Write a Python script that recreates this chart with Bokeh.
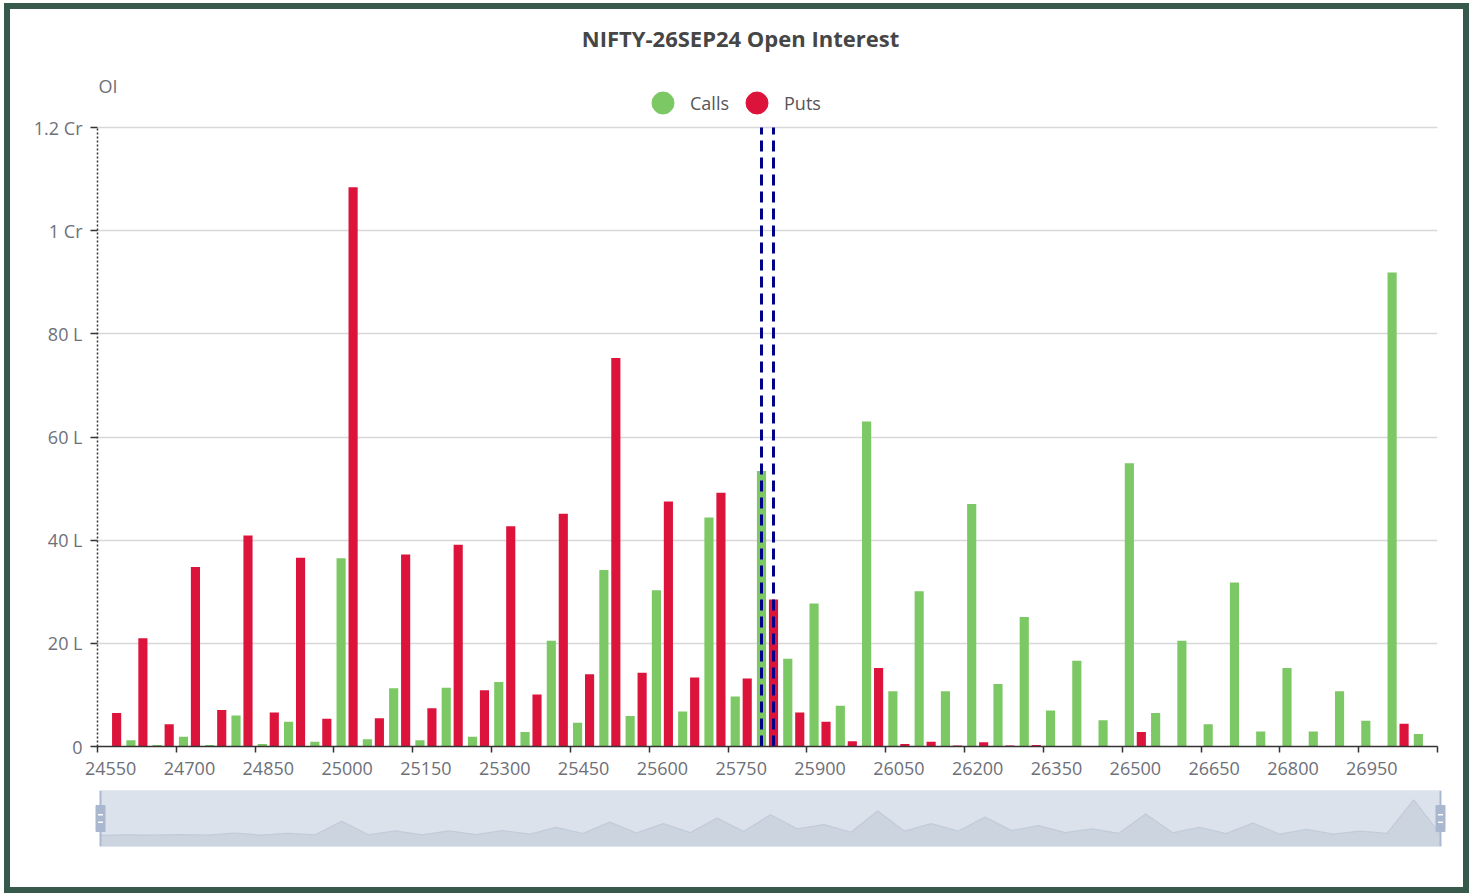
import numpy as np
from bokeh.plotting import figure
from bokeh.models import (Range1d, FixedTicker, Legend, LegendItem,
                          Label, ColumnDataSource)
from bokeh.transform import dodge
from bokeh.layouts import column
from bokeh.embed import file_html
from bokeh.resources import INLINE

# ---------------- data (OI in lakhs) ----------------
strikes = [24550, 24600, 24650, 24700, 24750, 24800, 24850, 24900, 24950,
           25000, 25050, 25100, 25150, 25200, 25250, 25300, 25350, 25400, 25450,
           25500, 25550, 25600, 25650, 25700, 25750, 25800, 25850, 25900, 25950,
           26000, 26050, 26100, 26150, 26200, 26250, 26300, 26350, 26400, 26450,
           26500, 26550, 26600, 26650, 26700, 26750, 26800, 26850, 26900, 26950,
           27000, 27050]
calls_oi = [0.0, 1.2, 0.3, 1.9, 0.3, 6.0, 0.5, 4.8, 0.9,
            36.5, 1.4, 11.3, 1.2, 11.4, 1.9, 12.5, 2.8, 20.5, 4.6,
            34.2, 5.9, 30.3, 6.8, 44.4, 9.7, 53.4, 17.0, 27.7, 7.9,
            63.0, 10.7, 30.1, 10.7, 47.0, 12.1, 25.1, 7.0, 16.6, 5.1,
            54.9, 6.5, 20.5, 4.3, 31.8, 2.9, 15.2, 2.9, 10.7, 5.0,
            91.9, 2.4]
puts_oi = [6.5, 21.0, 4.3, 34.8, 7.1, 40.9, 6.6, 36.6, 5.4,
           108.4, 5.5, 37.2, 7.4, 39.1, 10.9, 42.7, 10.1, 45.1, 14.0,
           75.3, 14.3, 47.5, 13.4, 49.2, 13.2, 28.5, 6.6, 4.8, 1.0,
           15.2, 0.5, 0.9, 0.2, 0.8, 0.2, 0.3, 0.1, 0.1, 0.0,
           2.8, 0.0, 0.0, 0.0, 0.0, 0.0, 0.0, 0.0, 0.0, 0.0,
           4.4, 0.0]
atm_strike = 25800
y_tick_values = [0, 20, 40, 60, 80, 100, 120]
y_tick_labels = ["0", "20 L", "40 L", "60 L", "80 L", "1 Cr", "1.2 Cr"]
title_text = "NIFTY-26SEP24 Open Interest"
y_name = "OI"
series_names = ["Calls", "Puts"]
label_every = 3

# ---------------- styles ----------------
GREEN = "#7CC864"
RED = "#DC143C"
FONT = "Open Sans"
AXIS_TXT = "#6E7079"
DARK = "#333333"

n = len(strikes)
idx = list(range(n))
src = ColumnDataSource(dict(i=idx, calls=calls_oi, puts=puts_oi))

W = 1453
MAIN_H = 781
BOTTOM = 44
FRAME_H = MAIN_H - BOTTOM          # frame spans from the very top
PLOT_TOP_PX = 118                   # where the 1.2 Cr line sits
ymax = y_tick_values[-1]
y_end = ymax * FRAME_H / (FRAME_H - PLOT_TOP_PX)

p = figure(width=W, height=MAIN_H, x_range=Range1d(-0.5, n - 0.5),
           y_range=Range1d(0, y_end), output_backend="svg", toolbar_location=None,
           min_border_left=87, min_border_right=26, min_border_top=0,
           min_border_bottom=BOTTOM)
p.outline_line_color = None
p.background_fill_color = "white"
p.border_fill_color = "white"
p.xgrid.visible = False
p.ygrid.grid_line_color = "#D8D8D8"
p.ygrid.grid_line_width = 1.5

off = 0.228
bw = 0.348
p.vbar(x=dodge("i", -off, range=p.x_range), top="calls", width=bw, source=src,
       fill_color=GREEN, line_color=None)
p.vbar(x=dodge("i", off, range=p.x_range), top="puts", width=bw, source=src,
       fill_color=RED, line_color=None)

ai = strikes.index(atm_strike)
p.segment(x0=[ai - off, ai + off], y0=[0, 0], x1=[ai - off, ai + off],
          y1=[ymax, ymax], line_color="#00008B", line_width=3, line_dash="11 6")

# x axis: labels at category centres, ticks (minor) on category boundaries
lab_idx = idx[::label_every]
ax = p.xaxis[0]
ax.ticker = FixedTicker(ticks=lab_idx,
                        minor_ticks=[i - 0.5 for i in range(0, n + 1, label_every)])
ax.major_label_overrides = {i: str(strikes[i]) for i in lab_idx}
ax.major_tick_line_color = None
ax.major_tick_out = 0
ax.major_tick_in = 0
ax.minor_tick_line_color = DARK
ax.minor_tick_line_width = 1.5
ax.minor_tick_out = 6
ax.minor_tick_in = 0
ax.axis_line_color = DARK
ax.axis_line_width = 1.5
ax.major_label_standoff = 9
ax.major_label_text_font = FONT
ax.major_label_text_font_size = "18px"
ax.major_label_text_color = AXIS_TXT

yax = p.yaxis[0]
yax.ticker = FixedTicker(ticks=y_tick_values)
yax.bounds = (0, ymax)
yax.major_label_overrides = dict(zip(y_tick_values, y_tick_labels))
yax.axis_line_dash = "2 2"
yax.axis_line_color = DARK
yax.axis_line_width = 1.5
yax.major_tick_out = 7
yax.major_tick_in = 0
yax.major_tick_line_color = DARK
yax.major_tick_line_width = 1.5
yax.minor_tick_line_color = None
yax.major_label_standoff = 8
yax.major_label_text_font = FONT
yax.major_label_text_font_size = "18px"
yax.major_label_text_color = AXIS_TXT

# legend (circle icons; the dummy points are NaN so nothing shows in the plot)
nan_pt = np.array([np.nan])
rc = p.scatter(x=nan_pt, y=nan_pt, marker="circle", size=22, color=GREEN)
rp = p.scatter(x=nan_pt, y=nan_pt, marker="circle", size=22, color=RED)
legend = Legend(items=[LegendItem(label=series_names[0], renderers=[rc]),
                       LegendItem(label=series_names[1], renderers=[rp])],
                location=(538, 616), orientation="horizontal",
                glyph_width=55, glyph_height=55, label_standoff=0, spacing=0,
                padding=0, margin=0, border_line_color=None,
                background_fill_alpha=0, label_text_font=FONT,
                label_text_font_size="18px", label_text_color="#555555")
p.add_layout(legend)

p.add_layout(Label(x=-0.5, y=ymax, x_offset=643, y_offset=90, text=title_text,
                   text_align="center", text_baseline="middle",
                   text_font=FONT, text_font_size="22px",
                   text_font_style="bold", text_color="#464646"))
p.add_layout(Label(x=-0.5, y=ymax, x_offset=1, y_offset=42, text=y_name,
                   text_align="left", text_baseline="middle",
                   text_font=FONT, text_font_size="18px", text_color=AXIS_TXT))

# ---------------- data-zoom slider ----------------
ys0, ys1 = -29, 116
s = figure(width=W, height=97, x_range=Range1d(-0.224, n - 1 + 0.224),
           y_range=Range1d(ys0, ys1), output_backend="svg",
           toolbar_location=None, min_border_left=84, min_border_right=17,
           min_border_top=0, min_border_bottom=41)
for fig in (p, s):
    try:
        fig.frame_align = False
    except Exception:
        pass
s.axis.visible = False
s.grid.visible = False
s.outline_line_color = None
s.background_fill_color = "white"
s.border_fill_color = "white"
s.quad(left=[idx[0]], right=[idx[-1]], bottom=[ys0], top=[ys1],
       fill_color="#DCE2EC", line_color="#D2DBEE", line_width=1)
s.varea(x=idx, y1=[ys0] * n, y2=calls_oi, fill_color="#CCD4E0", fill_alpha=1)
s.line(x=idx, y=calls_oi, line_color="#C2CBD9", line_width=1.2)
s.segment(x0=[idx[0], idx[-1]], y0=[ys0, ys0], x1=[idx[0], idx[-1]],
          y1=[ys1, ys1], line_color="#ACB8D1", line_width=2)
ym = (ys0 + ys1) / 2
s.rect(x=[idx[0], idx[-1]], y=[ym, ym], width=9, height=26,
       width_units="screen", height_units="screen",
       fill_color="#A9B8CF", line_color="#A9B8CF")
s.scatter(x=[idx[0], idx[0], idx[-1], idx[-1]], y=[ym + 10, ym - 10, ym + 10, ym - 10],
          marker="dash", size=5, line_color="white", line_width=1.5)

layout = column(p, s, margin=(3, 0, 0, 4),
                styles={"border": "6px solid #37594B",
                        "background-color": "white"})

open("out.html", "w").write(file_html(layout, INLINE))
